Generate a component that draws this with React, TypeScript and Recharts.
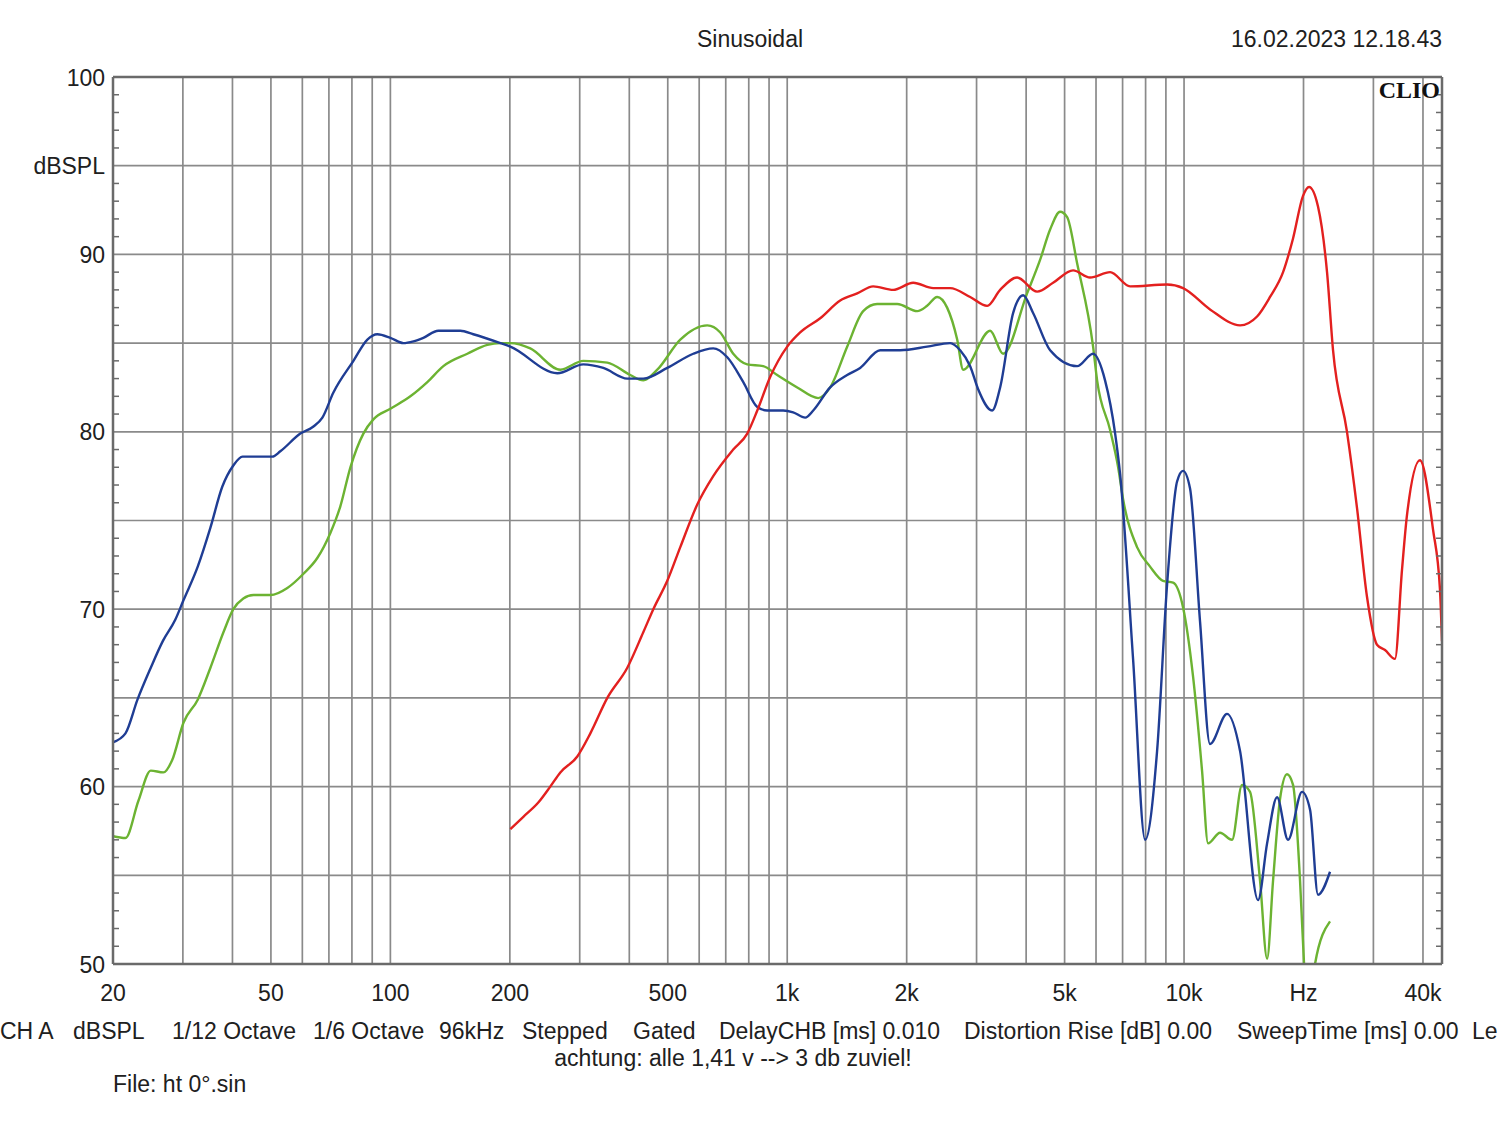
import React from 'react';
import { LineChart, Line, XAxis, YAxis, ReferenceLine } from 'recharts';

// ---- data (frequency in Hz, level in dBSPL) ----
const bluePoints: [number, number][] = [
  [20, 62.5], [21.5, 63.0], [23.05, 64.9], [24.9, 66.7], [26.7, 68.2], [28.7, 69.4], [30.1, 70.5],
  [32.7, 72.4], [35.2, 74.6], [37.7, 76.9], [40.2, 78.1], [42.4, 78.6], [50.4, 78.6], [52.8, 78.9],
  [59.3, 79.9], [64, 80.3], [67.4, 80.8], [71.8, 82.2], [80.7, 84.0], [87.5, 85.2], [92.7, 85.5],
  [100, 85.3], [107.8, 85.0], [114.3, 85.1], [121.1, 85.3], [132.1, 85.7], [150.1, 85.7], [161.8, 85.5],
  [189.3, 85.0], [200.6, 84.8], [263.5, 83.3], [306.3, 83.8], [344, 83.6], [395.4, 83.0], [433.8, 83.0],
  [498.6, 83.6], [579.8, 84.4], [651, 84.7], [706.3, 84.2], [775, 82.8], [840.6, 81.4], [890.6, 81.2],
  [977, 81.2], [1035, 81.1], [1110, 80.8], [1163, 81.2], [1283, 82.5], [1416, 83.2], [1527, 83.6],
  [1715, 84.6], [1926, 84.6], [2252, 84.8], [2573, 85.0], [2728, 84.6], [2891, 83.7], [3028, 82.4],
  [3284, 81.2], [3440, 82.5], [3710, 86.7], [3931, 87.7], [4165, 86.7], [4597, 84.6], [5377, 83.7],
  [5899, 84.4], [6323, 82.9], [6704, 79.9], [6901, 77.6], [7439, 67.2], [7977, 57.0], [8551, 62.0],
  [9063, 71.4], [9603, 77.2], [9943, 77.8], [10354, 76.8], [10972, 69.3], [11626, 62.4], [12834, 64.1],
  [13841, 62.0], [15365, 53.6], [16190, 56.8], [17155, 59.4], [18281, 57.0], [19829, 59.7], [20773, 58.7],
  [21754, 53.9], [23326, 55.2],
];

const greenPoints: [number, number][] = [
  [20, 57.2], [21.5, 57.1], [23.18, 59.2], [24.9, 60.9], [26.8, 60.8], [28.2, 61.5], [30.1, 63.6],
  [32.7, 64.9], [35.2, 66.7], [37.96, 68.7], [40.2, 70.0], [42.6, 70.6], [45.2, 70.8], [49.9, 70.8],
  [55, 71.2], [60.4, 72.0], [65.5, 72.9], [70.6, 74.3], [74.8, 75.8], [79.3, 78.0], [85.5, 79.9],
  [90.6, 80.7], [100, 81.3], [112.3, 82.0], [123.9, 82.8], [136, 83.7], [156.3, 84.4], [175.5, 84.9],
  [189.3, 85.0], [200.6, 85.0], [225.2, 84.7], [268.1, 83.5], [306.3, 84.0], [352.1, 83.9], [402.2, 83.2],
  [433.8, 82.9], [470.5, 83.5], [537.7, 85.2], [628.8, 86.0], [678.2, 85.6], [731.1, 84.4], [793, 83.8],
  [870, 83.7], [943.6, 83.2], [1060, 82.5], [1197, 81.9], [1283, 82.5], [1416, 84.8], [1554, 86.8],
  [1685, 87.2], [1893, 87.2], [2126, 86.8], [2252, 87.1], [2387, 87.6], [2529, 87.0], [2681, 85.2],
  [2776, 83.5], [3246, 85.7], [3500, 84.4], [4022, 87.8], [4339, 89.7], [4597, 91.4], [4872, 92.4],
  [5074, 92.1], [5377, 89.5], [5899, 84.8], [6038, 82.9], [6511, 80.1], [6822, 78.0], [7021, 76.2],
  [7613, 73.5], [8210, 72.4], [8853, 71.6], [9382, 71.5], [9943, 70.1], [10537, 66.2], [11100, 60.9],
  [11495, 56.8], [12322, 57.4], [13209, 57.0], [13999, 60.1], [14664, 59.7], [15541, 54.7], [16190, 50.3],
  [16760, 54.7], [17451, 59.3], [18174, 60.7], [18820, 60.1], [19600, 54.7], [20063, 50.0], [20652, 46.5],
  [21380, 50.0], [23326, 52.4],
];

const redPoints: [number, number][] = [
  [200.6, 57.6], [216.3, 58.3], [235.9, 59.1], [252.9, 60.0], [268.1, 60.8], [295.8, 61.7], [319.1, 63.0],
  [352.1, 65.0], [395.4, 66.7], [433.8, 68.7], [459.8, 70.0], [498.6, 71.6], [537.7, 73.5], [593.4, 75.9],
  [651, 77.5], [731.1, 79.0], [793, 79.9], [840.6, 81.2], [906.3, 83.1], [1000, 84.8], [1078, 85.6],
  [1211, 86.4], [1360, 87.4], [1501, 87.8], [1647, 88.2], [1849, 88.0], [2077, 88.4], [2333, 88.1],
  [2573, 88.1], [2891, 87.6], [3190, 87.1], [3440, 88.0], [3796, 88.7], [4264, 87.9], [4677, 88.4],
  [5252, 89.1], [5797, 88.7], [6511, 89.0], [7311, 88.2], [9063, 88.3], [9943, 88.1], [11626, 86.9],
  [13841, 86.0], [15275, 86.5], [16468, 87.6], [17763, 89.0], [18820, 90.9], [19942, 93.3], [20652, 93.8],
  [21754, 92.7], [22924, 89.0], [23736, 84.6], [25740, 80.0], [27282, 75.7], [28906, 70.7], [30631, 68.0],
  [32090, 67.7], [34002, 67.2], [35412, 72.2], [36455, 75.3], [39310, 78.4], [42396, 74.5], [44149, 71.1],
  [44668, 68.2],
];

const xDomain: [number, number] = [20, 44668];
const yDomain: [number, number] = [50, 100];

const xTickValues = [20, 50, 100, 200, 500, 1000, 2000, 5000, 10000, 20000, 40000];
const xTickLabels = ['20', '50', '100', '200', '500', '1k', '2k', '5k', '10k', 'Hz', '40k'];

const yLabelValues = [50, 60, 70, 80, 90, 100];
const yUnitValue = 95;
const yUnitText = 'dBSPL';
const yMinorTicks = Array.from({ length: 51 }, (_, i) => 50 + i);

const gridFreqs = [
  30, 40, 50, 60, 70, 80, 90, 100,
  200, 300, 400, 500, 600, 700, 800, 900, 1000,
  2000, 3000, 4000, 5000, 6000, 7000, 8000, 9000, 10000,
  20000, 30000, 40000,
];
const gridLevels = [55, 60, 65, 70, 75, 80, 85, 90, 95];

const titleText = 'Sinusoidal';
const dateText = '16.02.2023 12.18.43';
const brandText = 'CLIO';
const footerItems: [number, string][] = [
  [0, 'CH A'], [73, 'dBSPL'], [172, '1/12 Octave'], [313, '1/6 Octave'], [439, '96kHz'],
  [522, 'Stepped'], [633, 'Gated'], [719, 'DelayCHB [ms] 0.010'], [964, 'Distortion Rise [dB] 0.00'],
  [1237, 'SweepTime [ms] 0.00'], [1472, 'Le'],
];
const noteText = 'achtung: alle 1,41 v --> 3 db zuviel!';
const fileText = 'File: ht 0°.sin';

const toRows = (pts: [number, number][]) => pts.map(([f, db]) => ({ f, db }));
const blueData = toRows(bluePoints);
const greenData = toRows(greenPoints);
const redData = toRows(redPoints);

const FONT = '"Liberation Sans", Arial, sans-serif';
const TEXT_COLOR = '#202020';
const GRID = '#8a8a8a';
const FRAME = '#6a6a6a';
const FS = 23;

function LeftTick(props: any) {
  const { x, y, payload } = props;
  const v = payload.value as number;
  let label = '';
  if (yLabelValues.includes(v)) label = String(v);
  else if (v === yUnitValue) label = yUnitText;
  return (
    <g>
      {v % 5 !== 0 && <line x1={x} x2={x + 6} y1={y} y2={y} stroke={FRAME} strokeWidth={1.5} />}
      {label && (
        <text x={x - 8} y={y} dy={8.5} textAnchor="end" fontSize={FS} fill={TEXT_COLOR} fontFamily={FONT}>
          {label}
        </text>
      )}
    </g>
  );
}

function RightTick(props: any) {
  const { x, y, payload } = props;
  const v = payload.value as number;
  if (v % 5 === 0) return <g />;
  return <line x1={x - 6} x2={x} y1={y} y2={y} stroke={FRAME} strokeWidth={1.5} />;
}

function BottomTick(props: any) {
  const { x, y, payload } = props;
  const i = xTickValues.indexOf(payload.value);
  return (
    <text x={x} y={y} dy={36.5} textAnchor="middle" fontSize={FS} fill={TEXT_COLOR} fontFamily={FONT}>
      {i >= 0 ? xTickLabels[i] : ''}
    </text>
  );
}

export default function App() {
  const txt: React.CSSProperties = {
    position: 'absolute', fontFamily: FONT, fontSize: FS, color: TEXT_COLOR, whiteSpace: 'nowrap', lineHeight: 1,
  };
  return (
    <div style={{ position: 'absolute', left: 0, top: 0, width: 1500, height: 1121, background: '#fff', overflow: 'hidden' }}>
      <LineChart
        width={1500}
        height={1121}
        margin={{ top: 77, right: 48, bottom: 117, left: 13 }}
      >
        <XAxis
          dataKey="f"
          type="number"
          scale="log"
          domain={xDomain}
          allowDataOverflow
          ticks={xTickValues}
          interval={0}
          tick={<BottomTick />}
          tickSize={0}
          tickMargin={0}
          height={40}
          axisLine={{ stroke: FRAME, strokeWidth: 2.5 }}
          tickLine={false}
        />
        <YAxis
          yAxisId="l"
          type="number"
          domain={yDomain}
          allowDataOverflow
          ticks={yMinorTicks}
          interval={0}
          tick={<LeftTick />}
          tickSize={0}
          tickMargin={0}
          width={100}
          axisLine={{ stroke: FRAME, strokeWidth: 2.5 }}
          tickLine={false}
        />
        <YAxis
          yAxisId="r"
          orientation="right"
          type="number"
          domain={yDomain}
          allowDataOverflow
          ticks={yMinorTicks}
          interval={0}
          tick={<RightTick />}
          tickSize={0}
          tickMargin={0}
          width={10}
          axisLine={{ stroke: FRAME, strokeWidth: 2.5 }}
          tickLine={false}
        />
        {gridFreqs.map((f) => (
          <ReferenceLine key={'vx' + f} x={f} yAxisId="l" stroke={GRID} strokeWidth={1.7} />
        ))}
        {gridLevels.map((v) => (
          <ReferenceLine key={'hy' + v} y={v} yAxisId="l" stroke={GRID} strokeWidth={1.7} />
        ))}
        <ReferenceLine y={100} yAxisId="l" stroke={FRAME} strokeWidth={2.5} />
        <Line data={greenData} dataKey="db" yAxisId="l" type="monotone" stroke="#6cb332" strokeWidth={2.4} dot={false} activeDot={false} isAnimationActive={false} />
        <Line data={blueData} dataKey="db" yAxisId="l" type="monotone" stroke="#1f3d94" strokeWidth={2.4} dot={false} activeDot={false} isAnimationActive={false} />
        <Line data={redData} dataKey="db" yAxisId="l" type="monotone" stroke="#e3201f" strokeWidth={2.4} dot={false} activeDot={false} isAnimationActive={false} />
      </LineChart>

      <div style={{ ...txt, left: 750, top: 28, transform: 'translateX(-50%)' }}>{titleText}</div>
      <div style={{ ...txt, right: 1500 - 1442, top: 28 }}>{dateText}</div>
      <div style={{ ...txt, right: 1500 - 1440, top: 78, fontFamily: '"Liberation Serif", "Times New Roman", serif', fontWeight: 700, fontSize: 24, color: '#111' }}>{brandText}</div>
      {footerItems.map(([x, s]) => (
        <div key={s} style={{ ...txt, left: x, top: 1020 }}>{s}</div>
      ))}
      <div style={{ ...txt, left: 733, top: 1047, transform: 'translateX(-50%)' }}>{noteText}</div>
      <div style={{ ...txt, left: 113, top: 1073 }}>{fileText}</div>
    </div>
  );
}
